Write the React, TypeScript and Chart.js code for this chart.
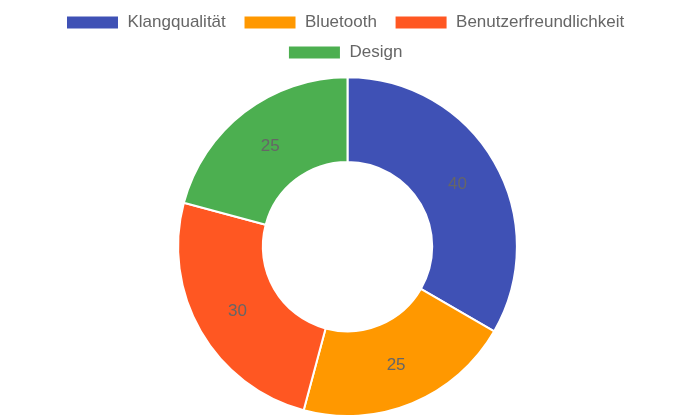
import React, { useEffect, useRef } from "react";
import { Chart, registerables } from "chart.js";

Chart.register(...registerables);

const categories = ["Klangqualität", "Bluetooth", "Benutzerfreundlichkeit", "Design"];
const values = [40, 25, 30, 25];
const colors = ["#3F51B5", "#FF9800", "#FF5722", "#4CAF50"];

const FONT = "'Liberation Sans', Arial, Helvetica, sans-serif";

const labelPlugin = {
  id: "sliceLabels",
  afterDatasetsDraw(chart: any) {
    const ctx = chart.ctx;
    const meta = chart.getDatasetMeta(0);
    ctx.save();
    ctx.font = `17px ${FONT}`;
    ctx.fillStyle = "#666";
    ctx.textAlign = "center";
    ctx.textBaseline = "middle";
    meta.data.forEach((arc: any, i: number) => {
      const p = arc.tooltipPosition();
      ctx.fillText(String(chart.data.datasets[0].data[i]), p.x, p.y + 1);
    });
    ctx.restore();
  },
};

export default function App() {
  const ref = useRef<HTMLCanvasElement>(null);
  useEffect(() => {
    if (!ref.current) return;
    const chart = new Chart(ref.current, {
      type: "doughnut",
      data: {
        labels: categories,
        datasets: [
          {
            data: values,
            backgroundColor: colors,
            borderColor: "#fff",
            borderWidth: 2,
          },
        ],
      },
      options: {
        animation: false,
        responsive: false,
        cutout: "50%",
        layout: { padding: { top: 1, bottom: 0 } },
        plugins: {
          legend: {
            position: "top",
            labels: {
              color: "#666",
              font: { size: 17, family: FONT },
              boxWidth: 53,
              boxHeight: 14,
              padding: 13,
              generateLabels(ch: any) {
                const base = Chart.overrides.doughnut.plugins.legend.labels.generateLabels(ch);
                return base.map((l: any) => ({ ...l, text: l.text + " " }));
              },
            },
          },
          subtitle: {
            display: true,
            text: "",
            position: "top",
            weight: 500,
            font: { size: 1 },
            padding: { top: 0, bottom: 4 },
          },
          tooltip: { enabled: false },
        },
      },
      plugins: [labelPlugin],
    });
    return () => chart.destroy();
  }, []);
  return (
    <div style={{ position: "absolute", left: 0, top: 0, width: 695, height: 417 }}>
      <canvas ref={ref} width={695} height={417} style={{ width: 695, height: 417, display: "block" }} />
    </div>
  );
}
